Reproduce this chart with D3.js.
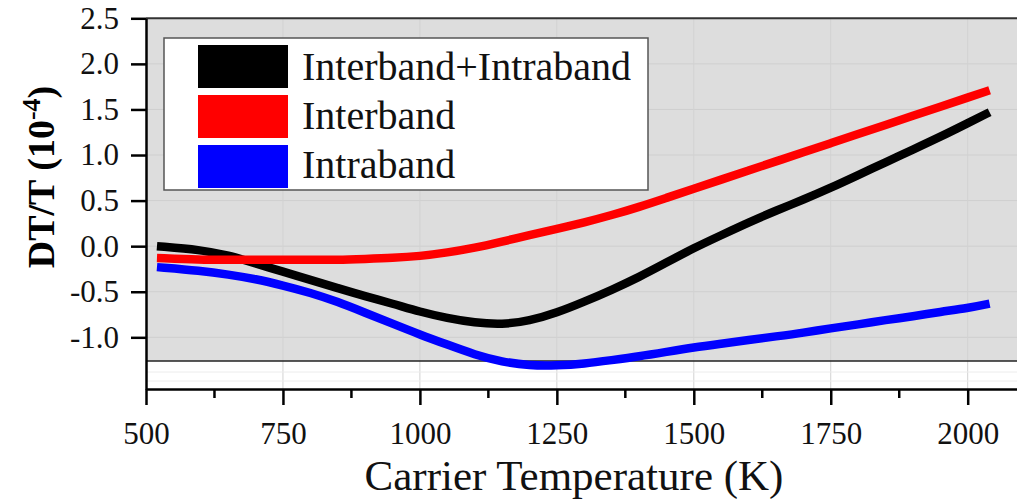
<!DOCTYPE html>
<html>
<head>
<meta charset="utf-8">
<script src="https://cdn.jsdelivr.net/npm/d3@7"></script>
<style>
  body { margin: 0; background: #fff; }
  text { font-family: "Liberation Serif", "Times New Roman", serif; }
</style>
</head>
<body>
<div id="chart"></div>
<script>
// data (temperature in K, DT/T in 1e-4)
var temps = [520, 600, 650, 700, 750, 800, 850, 900, 950, 1000, 1050, 1100, 1150, 1200, 1250, 1300,
    1350, 1400, 1450, 1500, 1550, 1600, 1650, 1700, 1750, 1800, 1850, 1900, 1950, 2000, 2040];

var totalVals = [0.00, -0.04, -0.10, -0.19, -0.28, -0.37, -0.46, -0.55, -0.63, -0.72, -0.79, -0.84, -0.86, -0.82, -0.73, -0.61,
    -0.48, -0.34, -0.18, -0.02, 0.12, 0.26, 0.39, 0.51, 0.64, 0.78, 0.92, 1.06, 1.20, 1.35, 1.47];

var interVals = [-0.13, -0.15, -0.15, -0.15, -0.15, -0.15, -0.15, -0.14, -0.13, -0.11, -0.07, -0.02, 0.05, 0.12, 0.19, 0.26,
    0.34, 0.43, 0.53, 0.63, 0.73, 0.83, 0.93, 1.03, 1.13, 1.23, 1.33, 1.43, 1.53, 1.63, 1.71];

var intraVals = [-0.23, -0.27, -0.31, -0.36, -0.43, -0.51, -0.61, -0.73, -0.85, -0.97, -1.08, -1.19, -1.27, -1.31, -1.31, -1.29,
    -1.25, -1.21, -1.16, -1.11, -1.07, -1.03, -0.99, -0.95, -0.90, -0.86, -0.81, -0.77, -0.72, -0.68, -0.63];

var seriesNames = ["Interband+Intraband", "Interband", "Intraband"];
var seriesColors = ["#000000", "#ff0000", "#0000ff"];

var xTicks = [500, 750, 1000, 1250, 1500, 1750, 2000];
var xMinorTicks = [625, 875, 1125, 1375, 1625, 1875];
var yTicks = [-1.0, -0.5, 0.0, 0.5, 1.0, 1.5, 2.0, 2.5];

var svgWidth = 1017;
var svgHeight = 502;

var svg = d3.select("#chart")
    .append("svg")
    .attr("width", svgWidth)
    .attr("height", svgHeight);

var xScale = d3.scaleLinear()
    .domain([500, 2090])
    .range([146, 1017]);

var yScale = d3.scaleLinear()
    .domain([-1.567, 2.5])
    .range([389, 18.3]);

// gray plot area, stops a bit above the x axis
var grayBottom = yScale(-1.26);
svg.append("rect")
    .attr("x", xScale(500))
    .attr("y", yScale(2.5))
    .attr("width", 1017 - xScale(500))
    .attr("height", grayBottom - yScale(2.5))
    .attr("fill", "#dddddd");

// grid
svg.append("g")
    .selectAll("line")
    .data(yTicks.slice(0, -1))
    .enter()
    .append("line")
    .attr("x1", xScale(500))
    .attr("x2", 1017)
    .attr("y1", d => yScale(d))
    .attr("y2", d => yScale(d))
    .attr("stroke", "#cfcfcf")
    .attr("stroke-width", 1);

svg.append("g")
    .selectAll("line")
    .data(xTicks.slice(1))
    .enter()
    .append("line")
    .attr("x1", d => xScale(d))
    .attr("x2", d => xScale(d))
    .attr("y1", yScale(2.5))
    .attr("y2", 389)
    .attr("stroke", "#d2d2d2")
    .attr("stroke-width", 1);

// faint lines in the white strip
[372, 381].forEach(function(yy) {
    svg.append("line")
        .attr("x1", xScale(500))
        .attr("x2", 1017)
        .attr("y1", yy)
        .attr("y2", yy)
        .attr("stroke", "#ececec");
});

svg.append("line")
    .attr("x1", xScale(500))
    .attr("x2", 1017)
    .attr("y1", grayBottom)
    .attr("y2", grayBottom)
    .attr("stroke", "#222")
    .attr("stroke-width", 1.5);

svg.append("line")
    .attr("x1", xScale(500))
    .attr("x2", 1017)
    .attr("y1", yScale(2.5))
    .attr("y2", yScale(2.5))
    .attr("stroke", "#333")
    .attr("stroke-width", 2);

// curves
var lineGen = d3.line()
    .x((d, i) => xScale(temps[i]))
    .y(d => yScale(d))
    .curve(d3.curveBasis);

[totalVals, interVals, intraVals].forEach(function(vals, i) {
    svg.append("path")
        .attr("d", lineGen(vals))
        .attr("fill", "none")
        .attr("stroke", seriesColors[i])
        .attr("stroke-width", 8.5);
});

// axes
var fmt = d => d3.format(".1f")(d).replace("\u2212", "-");

var leftAxis = d3.axisLeft(yScale)
    .tickValues(yTicks)
    .tickFormat(fmt)
    .tickSize(15)
    .tickSizeOuter(0)
    .tickPadding(12);

var yAxis = svg.append("g")
    .attr("transform", `translate(${xScale(500)}, 0)`)
    .call(leftAxis);

yAxis.select(".domain").attr("stroke-width", 2.5);
yAxis.selectAll(".tick line").attr("stroke-width", 2.5);
yAxis.selectAll("text")
    .style("font-size", "31px")
    .style("font-family", "Liberation Serif")
    .attr("fill", "#111");

var bottomAxis = d3.axisBottom(xScale)
    .tickValues(xTicks)
    .tickFormat(d3.format("d"))
    .tickSize(16)
    .tickSizeOuter(0)
    .tickPadding(17);

var xAxis = svg.append("g")
    .attr("transform", "translate(0, 389)")
    .call(bottomAxis);

xAxis.select(".domain").attr("stroke-width", 2.5);
xAxis.selectAll(".tick line").attr("stroke-width", 2.5);
xAxis.selectAll("text")
    .style("font-size", "31px")
    .style("font-family", "Liberation Serif")
    .attr("fill", "#111");

svg.append("g")
    .selectAll("line")
    .data(xMinorTicks)
    .enter()
    .append("line")
    .attr("x1", d => xScale(d))
    .attr("x2", d => xScale(d))
    .attr("y1", 389)
    .attr("y2", 398)
    .attr("stroke", "#000")
    .attr("stroke-width", 2.5);

// axis titles
svg.append("text")
    .attr("x", 574)
    .attr("y", 490)
    .attr("text-anchor", "middle")
    .style("font-size", "43px")
    .attr("fill", "#111")
    .text("Carrier Temperature (K)");

var yTitle = svg.append("text")
    .attr("transform", "translate(54, 177) rotate(-90)")
    .attr("text-anchor", "middle")
    .style("font-size", "38px")
    .style("font-weight", "bold")
    .attr("fill", "#000");
yTitle.append("tspan").text("DT/T (10");
yTitle.append("tspan").attr("dy", -14).style("font-size", "26px").text("-4");
yTitle.append("tspan").attr("dy", 14).text(")");

// legend
var legend = svg.append("g");
legend.append("rect")
    .attr("x", 164)
    .attr("y", 38)
    .attr("width", 484)
    .attr("height", 152)
    .attr("fill", "#fff")
    .attr("stroke", "#555")
    .attr("stroke-width", 1.5);

seriesNames.forEach(function(name, i) {
    legend.append("rect")
        .attr("x", 198)
        .attr("y", 45 + i * 50)
        .attr("width", 90)
        .attr("height", 43)
        .attr("fill", seriesColors[i]);
    legend.append("text")
        .attr("x", 302)
        .attr("y", 80 + i * 49)
        .style("font-size", "40px")
        .attr("fill", "#111")
        .text(name);
});
</script>
</body>
</html>
